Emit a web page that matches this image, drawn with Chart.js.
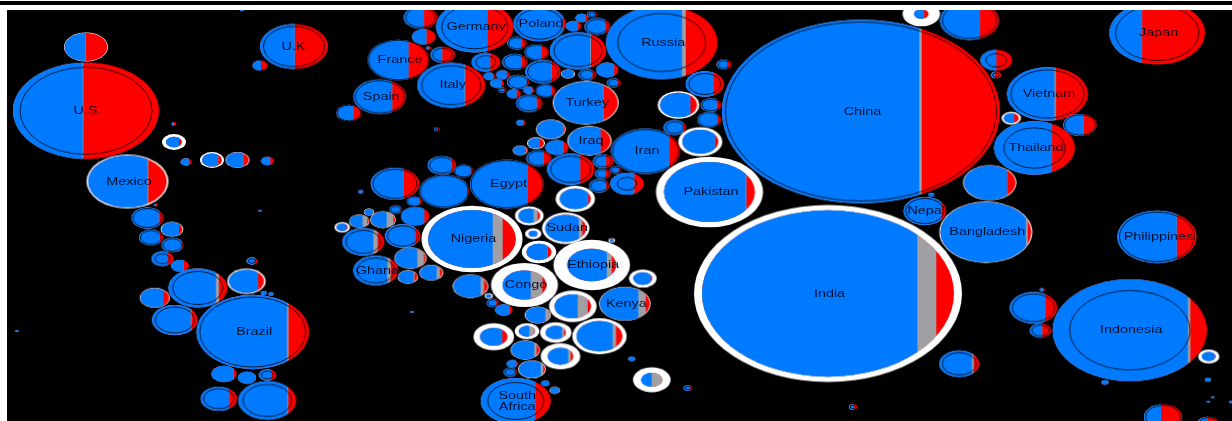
<!DOCTYPE html>
<html><head><meta charset="utf-8">
<script src="https://cdn.jsdelivr.net/npm/chart.js@4"></script>
<style>
html,body{margin:0;padding:0;background:#fff;width:1232px;height:421px;overflow:hidden}
#band{position:absolute;left:0;top:1px;width:1232px;height:4px;background:#000}
#wrap{position:absolute;left:0;top:0;width:1232px;height:421px}
canvas{filter:blur(0.35px)}
</style></head><body>
<div id="wrap"><canvas id="c" width="1232" height="421"></canvas></div>
<div id="band"></div>
<script>
// Each row: name, x, y, outer size, inner size, ring type, end of blue, end of grey
const americas=[
['',86,47,22,21.3,'W',85,85.5],['U.S.',86,110.7,73,66,'O',82.7,83.3],['U.K.',294,46.5,34,30.5,'O',294.7,294.7],
['',260,65.5,7.5,0,'P',261,261],['',174,124,2.5,0,'P',174,174],['',174,142,12,8,'W',179,179],
['',186,162,5.5,0,'P',188.7,188.7],['',212,160,12,10,'W',218,218.3],['',237.5,160,12,11.3,'W',243,243.3],
['',267.5,161,6.5,0,'P',270,270],['Mexico',127.5,181.5,41,39.3,'W',147.5,148.3],['',156,205,2,0,'P',156,156],
['',147.5,218,16,14.5,'O',159,159],['',172,229.3,11.3,10.5,'W',179,179],['',151,237.5,12,10.5,'O',160,160],
['',172.5,245,11,9.5,'O',181.7,181.7],['',162.5,258.7,11.2,7.5,'O',167.7,167.7],['',180,265.8,9,0,'P',183.7,183.7],
['',197.8,288,29.5,25,'O',216,219],['',252,261,5.5,3.5,'O',254.7,254.7],['',246.5,281.3,19.2,17.5,'W',257.7,257.7],
['',263.7,293,3,0,'P',270,270],['',271,294,2.7,0,'P',275,275],['',154.7,297.8,15,14.3,'W',163.7,163.7],
['',174.8,320,22.8,19.5,'O',190.5,191.3],['Brazil',252.7,332,56.3,53,'O',287,288.5],['',17,331,1.7,0,'P',20,20],
['',224,374,12.5,0,'P',234,234],['',247,377.7,9.3,0,'P',256,256],['',267.5,375,8.8,6,'O',271.3,271.3],
['',218.8,398.7,18.2,15.2,'O',229,229],['',267.3,400.5,29,24.3,'O',287.5,288.2],['',260,210.7,1.7,0,'P',265,265]
];
const europe=[
['',420.5,17.5,16.8,15,'O',423.7,423.7],['',423.8,36.8,11.8,0,'P',426.3,426.3],['Germany',474.7,27,38.7,33,'O',487.7,487.7],
['France',398.5,60,30.8,30,'O',408.7,408.7],['',428.7,48,2.7,0,'P',428.7,428.7],['',442.7,54.7,12.3,10,'O',442,442],
['Italy',451.3,85.3,34,29.5,'O',464.7,465.2],['Spain',379.7,96.7,26.3,24.5,'O',392,392],['',349,113,12.5,11.8,'O',354,354],
['',437,129.3,3,2,'O',438,438],['',485.7,62.2,14.3,10,'O',490,490],['',517,43.3,9.7,8.5,'O',522,522],
['',514.8,62,12.5,11,'O',521.7,521.7],['',489.3,76.3,5.7,0,'P',493,493],['',497,83.3,7,0,'P',502,502],
['',502.7,74.7,6.7,0,'P',506.7,506.7],['',502.3,90,4,3,'O',504,504],['',518,82,11,9.5,'O',526.7,526.7],
['',513.7,93.7,7,0,'P',516.5,516.5],['',528.7,90.3,5.5,0,'P',532,532],['',529.2,103.3,13.2,11.5,'O',536.7,536.7],
['',520.7,122.7,4.5,0,'P',523,523],['Poland',539.5,24,26.2,23,'O',563,563],['',581.7,18,6.5,0,'P',585.5,585.5],
['',592,14.5,4.8,3.8,'O',595,595],['',573.5,26,7.8,0,'P',577.7,577.7],['',597.3,26.5,12.7,11,'O',605,605],
['',578,50.7,28.2,24,'O',590.3,591],['',536.7,52.3,12.3,11.3,'O',541.7,541.7],['',543,71.7,17.7,15.5,'O',551.7,551.7],
['',568,74,7,6.3,'W',573.7,573.7],['',587.2,74.7,8.8,7,'O',592.3,592.3],['',607.2,70,11.2,0,'P',614,614],
['',613.7,82.7,7,5.5,'O',617.3,617.3],['',545.7,90.7,10.3,9.5,'O',551.7,551.7],['Turkey',585.7,102.7,33,32,'W',603.3,603.7],
['Russia',661.7,42.5,55.7,44,'O',682,685.7]
];
const africaMiddleEast=[
['',724,64.5,7.5,6,'O',727,727],['',704.8,84,19.2,16,'O',713.7,713.7],['',678.5,105,20.8,18.5,'W',690.3,690.3],
['',711,105,10.3,9,'O',716.7,716.7],['',709.2,119.7,12,11,'O',717.3,717.3],['',674.7,127.5,11.3,9,'O',683,683],
['',550.8,129.3,14.8,14,'W',563.3,563.3],['Iraq',589.5,140.8,22.2,21.2,'W',600.7,600.7],['',700.3,141.7,22,18,'W',715,715],
['Iran',645.5,151.3,34.5,33,'O',669.3,669.3],['',536,143.2,9,8,'W',540,540],['',520.2,150.5,7.5,6.8,'W',525,525],
['',556.8,147.5,11.5,0,'P',563.3,563.3],['',538.8,158.3,12.5,11,'O',543.3,543.3],['',570.7,169.3,23.7,20,'O',580,580],
['',603.2,161.3,10.5,8.5,'O',606,606],['',602.7,173.7,8,6.3,'O',605.7,605.7],['',615.7,170,5.7,4.5,'O',618.7,618.7],
['',599.2,185.8,10.2,8.5,'O',606,606],['',627,183.7,16.7,9.7,'O',634.3,634.3],['Pakistan',709.5,192,53.5,45.5,'W',746,746.5],
['Egypt',507,184.2,37,36,'O',528,528],['',575.3,198.8,19.7,15.5,'W',588,588],['',529.3,215.8,14.3,11,'W',533.5,537.7],
['Sudan',565.7,228.3,23.7,20.5,'W',578.7,582.3],['',533.2,233.7,8.2,4.5,'W',537,537],['',611.7,240.5,3.3,2.2,'W',613,613],
['',539,252,17.2,12.5,'W',547.7,547.7],['Ethiopia',591.7,265,38.3,24.5,'W',606.7,611.7],['',642.8,278.5,13.8,9.5,'W',650.7,650.7],
['',395,183.7,24.3,22,'O',403.7,403.7],['',441.8,165.2,14.2,12.2,'O',451.7,451.7],['',463.7,171,9.7,9,'O',470.7,470.7],
['',444.3,191.3,25,24,'O',467.3,467.3],['',360.7,191.7,2.5,0,'P',365,365],['',414.5,201.2,7.8,7.2,'O',419.3,419.3],
['',369,212,5.3,4.6,'W',372.7,372.7],['',395.7,209.5,6.3,5,'O',400.5,400.5],['',415.2,216.2,14.2,0,'P',424.3,424.3],
['',359.3,221.2,10.3,9.6,'W',362.7,367.3],['',383,219.7,12.7,12,'W',386.7,393.3],['',342.2,227.3,7.8,5.7,'W',346.5,346.5],
['',402.7,236,17.7,15.5,'O',415,415],['',363.3,241.8,21,17.5,'O',373.3,377.7],['Nigeria',472,239,50.5,44,'W',492.7,502.7],
['',410.5,258.2,16.2,15.5,'W',417.3,424],['Ghana',375.8,270.5,22.5,19,'O',387.3,390.7],['',407.8,277,10.2,9.5,'W',413.5,414.5],
['',431.3,272.7,12,11.3,'W',436.7,440],['',470.5,286.3,17.8,17,'W',480.7,484],['',488.7,296,4,2.8,'W',491,491],
['Congo',524.5,285,33.5,22,'W',530.7,542.3],['',572.8,306.3,23.8,18.3,'W',577.7,587.7],['Kenya',624.8,303.7,25.8,25,'W',638.3,645.7],
['',492.7,303,6.3,5,'O',496,496],['',503.8,310,8.8,0,'P',509.5,509.5],['',537.7,315,13,12.2,'W',545.3,549.3],
['',493.7,336.7,20.3,13.7,'W',502,502],['',527,331.2,12.3,8.3,'W',529.3,534.7],['',555.7,332.5,15.7,10.3,'W',562,564],
['',599.5,336.2,27.2,23,'W',612.7,616],['',525.3,350,14.7,14,'W',534.3,536.7],['',560.5,356.3,19.8,12.8,'W',568.3,570.7],
['',512.3,363.7,5.8,0,'P',516.5,516.5],['',510.3,372.3,6.7,5.2,'O',515,515],['',532,369.3,13.8,13,'W',540.7,543.3],
['',631.7,358.7,3.5,0,'P',640,640],['',651.8,379.8,18.8,10.7,'W',651.7,661.7],['',687.7,388,4.3,3,'O',690,690],
['South\nAfrica',515.7,401,35,28,'O',535,535],['',545.3,383.3,4.2,0,'P',550,550],['',554.7,390.3,5.3,4.5,'W',562,562],
['',412,312,1.7,0,'P',415,415]
];
const asia=[
['China',861,111.5,139,135.5,'O',919.3,921.7],['India',828,293.5,134,126,'W',917.3,936.3],['',921.3,14,18.7,7.3,'W',923.7,923.7],
['',969.5,20.5,29.5,27,'O',979.7,979.7],['Japan',1157.2,33,47.8,41.7,'O',1141.7,1141.7],['',996.2,60.3,15.8,10.3,'O',996.3,996.3],
['',996,75,5.3,3.3,'O',994.5,994.5],['Vietnam',1047.5,94,40.5,36.5,'O',1054.5,1055.7],['',1011.3,118.2,9.7,7.5,'W',1014,1014],
['',1080,125,16.7,15.5,'O',1083.7,1083.7],['Thailand',1034.5,148,40.5,30.5,'O',1051.7,1051.7],['',989.7,182.7,26.7,25.8,'W',1007,1007],
['',931.3,194.7,3,0,'P',940,940],['Nepal',924.7,211,21.3,19.2,'O',941.3,941.3],['Bangladesh',985.8,232.2,46.5,45.5,'W',1026,1027.7],
['Philippines',1157,236.8,39.7,37.5,'O',1176.7,1176.7],['',1033.5,307.7,23.8,21,'O',1045.3,1045.3],['',1042.3,289.7,2.7,0,'P',1043,1043],
['',1040.5,330.5,10.8,8.5,'O',1042,1042],['Indonesia',1129.8,330.2,77.2,60.2,'O',1188,1190.3],['',1208.7,356.5,10.7,7,'W',1214.5,1214.5],
['',959.3,363.7,20,17,'O',972,973.7],['',1105,382.3,3.5,0,'P',1110,1110],['',1208,379.7,3,0,'P',1212,1212],
['',1212.7,397.3,1.7,0,'P',1216,1216],['',1208.3,401.7,1.7,0,'P',1211,1211],['',1231,402,2,0,'P',1235,1235],
['',1163,416.7,19,17.5,'O',1161,1161],['',1208,424,11,9.5,'O',1208,1208],['',853,407,4,2.7,'O',854,854],['',241.7,10,2,0,'P',244,244]
];
const blue='#007bff', red='#ff0000', grey='#a0a0a4';
const ASPECT=1.515; // the map is stretched sideways: width per unit height
const regions=[asia,africaMiddleEast,europe,americas];

function sprite(row,xScale){
  const [name,x,y,outer,inner,kind,blueEnd,greyEnd]=row;
  const w=Math.ceil(outer)*2+4, h=Math.ceil(outer/ASPECT)*2+4;
  const cv=document.createElement('canvas');cv.width=w;cv.height=h;
  const g=cv.getContext('2d');
  const cx=w/2,cy=h/2,origin=xScale.getPixelForValue(x);
  const ell=(rx)=>{g.beginPath();g.ellipse(cx,cy,rx,rx/ASPECT,0,0,Math.PI*2);};
  const fillRx=kind==='W'?inner:outer;
  if(kind==='W'){g.fillStyle='#fff';ell(outer);g.fill();}
  g.save();ell(fillRx);g.clip();
  const b=cx+xScale.getPixelForValue(blueEnd)-origin, e=cx+xScale.getPixelForValue(greyEnd)-origin;
  g.fillStyle=red;g.fillRect(0,0,w,h);
  g.fillStyle=grey;g.fillRect(0,0,e,h);
  g.fillStyle=blue;g.fillRect(0,0,b,h);
  g.restore();
  if(kind==='O'){g.strokeStyle='rgba(0,0,0,.85)';g.lineWidth=0.9;ell(inner);g.stroke();}
  return cv;
}
const datasets=regions.map(rows=>({
  data:rows.map(r=>({x:r[1],y:r[2],r:r[3]/ASPECT})),
  clip:0,
  pointStyle(ctx){
    const row=rows[ctx.dataIndex];
    if(!row)return 'circle';
    if(row._s)return row._s;
    const xs=ctx.chart.scales.x;
    if(!xs||!Number.isFinite(xs.getPixelForValue(row[1])))return 'circle';
    return row._s=sprite(row,xs);
  }
}));
const plugins=[{
  id:'ground',
  beforeDatasetsDraw(c){const a=c.chartArea,g=c.ctx;g.save();g.fillStyle='#000';g.fillRect(a.left,a.top,a.right-a.left,a.bottom-a.top);g.restore();}
},{
  id:'names',
  afterDatasetsDraw(c){
    const g=c.ctx,sx=c.scales.x,sy=c.scales.y;
    g.save();g.fillStyle='rgba(0,8,30,.92)';g.font='10.5px "Liberation Sans"';g.textAlign='center';g.textBaseline='middle';
    regions.flat().forEach(r=>{
      if(!r[0])return;
      const lines=r[0].split('\n');
      lines.forEach((t,i)=>{
        g.save();
        g.translate(sx.getPixelForValue(r[1])+1.5,sy.getPixelForValue(r[2])+0.3+(i-(lines.length-1)/2)*11);
        g.scale(1.37,1);g.fillText(t,0,0);g.restore();
      });
    });
    g.restore();
  }
}];
new Chart(document.getElementById('c'),{
  type:'bubble',
  data:{datasets},
  plugins,
  options:{
    responsive:false,animation:false,events:[],devicePixelRatio:1,
    layout:{autoPadding:false,padding:{left:7,top:10,right:0,bottom:0}},
    plugins:{legend:{display:false},tooltip:{enabled:false}},
    scales:{
      x:{type:'linear',min:7,max:1232,display:false},
      y:{type:'linear',min:10,max:421,reverse:true,display:false}
    }
  }
});
</script>
</body></html>
